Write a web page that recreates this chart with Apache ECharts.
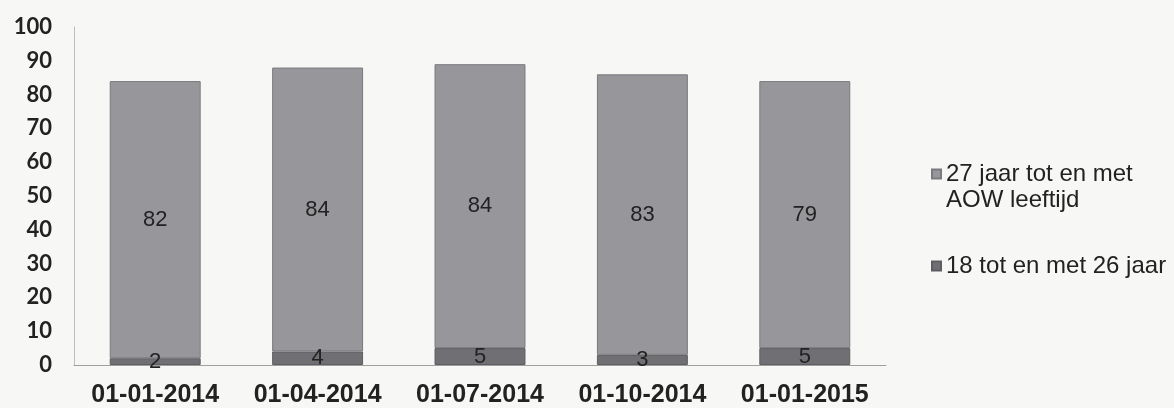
<!DOCTYPE html>
<html>
<head>
<meta charset="utf-8">
<script src="https://cdn.jsdelivr.net/npm/echarts@6/dist/echarts.min.js"></script>
<style>
  html, body { margin: 0; padding: 0; background: #f7f7f5; }
  #chart { width: 1174px; height: 408px; }
</style>
</head>
<body>
<div id="chart"></div>
<script>
// gegevens
let categories = ["01-01-2014", "01-04-2014", "01-07-2014", "01-10-2014", "01-01-2015"];
let jong = [2, 4, 5, 3, 5];          // 18 tot en met 26 jaar
let ouder = [82, 84, 84, 83, 79];    // 27 jaar tot en met AOW leeftijd
let yTicks = [0, 10, 20, 30, 40, 50, 60, 70, 80, 90, 100];

let naamOuder = "27 jaar tot en met\nAOW leeftijd";
let naamJong = "18 tot en met 26 jaar";

let myChart = echarts.init(document.getElementById("chart"));
let option = {
  backgroundColor: "#f7f7f5",
  animation: false,
  grid: { left: 74, right: 288, top: 27, bottom: 42 },
  legend: {
    orient: "vertical",
    left: 926,
    top: 130,
    itemWidth: 9,
    itemHeight: 9,
    itemGap: 40,
    icon: "rect",
    data: [naamOuder, naamJong],
    // lege regel erboven zodat het icoon bij de eerste regel staat
    formatter: (name) => (name === naamOuder ? "\n" + name : name),
    textStyle: { fontFamily: "Liberation Sans", fontSize: 24, color: "#222", lineHeight: 26 }
  },
  xAxis: {
    type: "category",
    data: categories,
    axisTick: { show: false },
    axisLine: { lineStyle: { color: "#a0a0a0" } },
    axisLabel: {
      interval: 0, hideOverlap: false,
      fontFamily: "Liberation Sans", fontWeight: "bold", fontSize: 25, color: "#222", margin: 18
    }
  },
  yAxis: {
    type: "value",
    min: 0,
    max: 100,
    interval: 10,
    splitLine: { show: false },
    axisLine: { show: true, lineStyle: { color: "#bdbdbd" } },
    axisLabel: {
      fontFamily: "Lato", fontWeight: "bold", fontSize: 22, color: "#222", margin: 22,
      formatter: (v) => (yTicks.includes(v) ? String(v) : "")
    }
  },
  series: [
    {
      name: naamJong,
      type: "bar",
      stack: "x",
      data: jong,
      barCategoryGap: "44%",
      itemStyle: { color: "#707074", borderColor: "#5e5e62", borderWidth: 1 },
      label: { show: true, position: "inside", fontFamily: "Liberation Sans", fontSize: 22, color: "#222" }
    },
    {
      name: naamOuder,
      type: "bar",
      stack: "x",
      data: ouder,
      barCategoryGap: "44%",
      itemStyle: { color: "#97979b", borderColor: "#7a7a7e", borderWidth: 1 },
      label: { show: true, position: "inside", fontFamily: "Liberation Sans", fontSize: 22, color: "#222" }
    }
  ]
};
myChart.setOption(option);
</script>
</body>
</html>
